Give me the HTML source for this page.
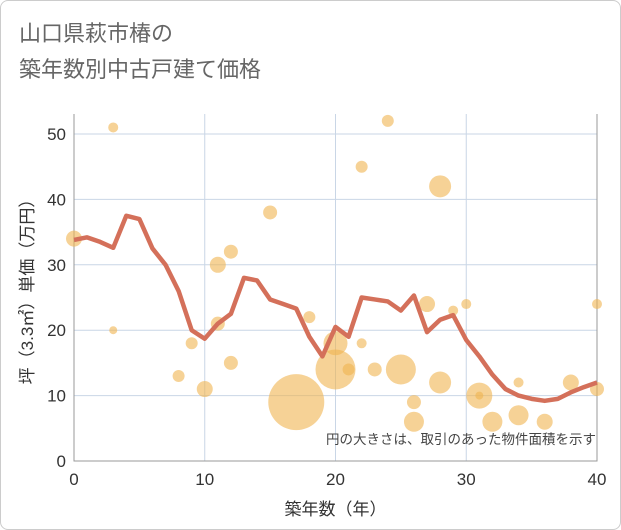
<!DOCTYPE html>
<html><head><meta charset="utf-8"><style>
body{margin:0;background:#fff;font-family:"Liberation Sans","Noto Sans CJK JP",sans-serif;}
#wrap{position:relative;width:619px;height:528px;border:1px solid #ccc;border-radius:8px;overflow:hidden;}
</style></head><body>
<div id="wrap">
<svg id="c" width="619" height="528">
<text x="18" y="40" font-size="22" fill="#666" font-family="Liberation Sans,Noto Sans CJK JP,sans-serif">山口県萩市椿の</text>
<text x="18" y="76" font-size="22" fill="#666" font-family="Liberation Sans,Noto Sans CJK JP,sans-serif">築年数別中古戸建て価格</text>
</svg></div>
<script>
const lineYears=[0,1,2,3,4,5,6,7,8,9,10,11,12,13,14,15,16,17,18,19,20,21,22,23,24,25,26,27,28,29,30,31,32,33,34,35,36,37,38,39,40];
const lineValues=[33.8,34.2,33.5,32.6,37.5,37,32.5,30,26,20,18.7,21,22.5,28,27.6,24.7,24,23.3,19,16,20.5,19,25,24.7,24.4,23,25.3,19.7,21.6,22.3,18.5,16,13.2,11,10,9.5,9.2,9.5,10.5,11.3,12];
const bubbleX=[0,3,3,8,9,10,11,11,12,12,15,17,18,20,20,21,22,22,23,24,25,26,26,27,28,28,29,30,31,31,32,34,34,36,38,40,40];
const bubbleY=[34,51,20,13,18,11,30,21,32,15,38,9,22,18,14,14,45,18,14,52,14,9,6,24,42,12,23,24,10,10,6,12,7,6,12,24,11];
const bubbleR=[8,5,4,6,6,8,8,7,7,7,7,28,6,12,20,6,6,5,7,6,15,7,10,8,11,11,5,5,13,4,10,5,10,8,8,5,7];
const xTicks=[0,10,20,30,40];
const yTicks=[0,10,20,30,40,50];
const svg=document.getElementById('c');const NS='http://www.w3.org/2000/svg';
const L=73,R=596,T=113,B=460;
const xs=v=>L+(v-0)/40*(R-L);
const ys=v=>B-v/50*(B-133);
function mk(t,a,p){const e=document.createElementNS(NS,t);for(const k in a)e.setAttribute(k,a[k]);(p||svg).appendChild(e);return e;}
yTicks.forEach(v=>{
const g=mk('line',{x1:L,x2:R,y1:ys(v),y2:ys(v),stroke:'#c9d6e6','stroke-width':1});


const t=mk('text',{x:L-8,y:ys(v)+6,'text-anchor':'end','font-size':17,fill:'#333'});t.textContent=v;


});
xTicks.forEach(v=>{
const g=mk('line',{x1:xs(v),x2:xs(v),y1:T,y2:B,stroke:'#c9d6e6','stroke-width':1});


const t=mk('text',{x:xs(v),y:B+24,'text-anchor':'middle','font-size':17,fill:'#333'});t.textContent=v;


});
const ax=mk('path',{d:`M${L} ${T}V${B}H${R}V${T}`,fill:'none',stroke:'#999','stroke-width':1});


bubbleX.forEach((x,i)=>{
const c=mk('circle',{cx:xs(x),cy:ys(bubbleY[i]),r:bubbleR[i],fill:'rgba(240,180,80,0.6)'});


});
const pl=mk('polyline',{points:lineYears.map((x,i)=>xs(x)+','+ys(lineValues[i])).join(' '),fill:'none',stroke:'#d4705a','stroke-width':4.5,'stroke-linejoin':'round'});


const note=mk('text',{x:595,y:443,'text-anchor':'end','font-size':13.5,fill:'#444'});note.textContent='円の大きさは、取引のあった物件面積を示す';


const xt=mk('text',{x:(L+R)/2,y:514,'text-anchor':'middle','font-size':17,fill:'#333'});xt.textContent='築年数（年）';


const yt=mk('text',{x:0,y:0,'text-anchor':'middle','font-size':17,fill:'#333',transform:`translate(32,${(T+B)/2}) rotate(-90)`});yt.textContent='坪（3.3㎡）単価（万円）';


</script>
</body></html>
